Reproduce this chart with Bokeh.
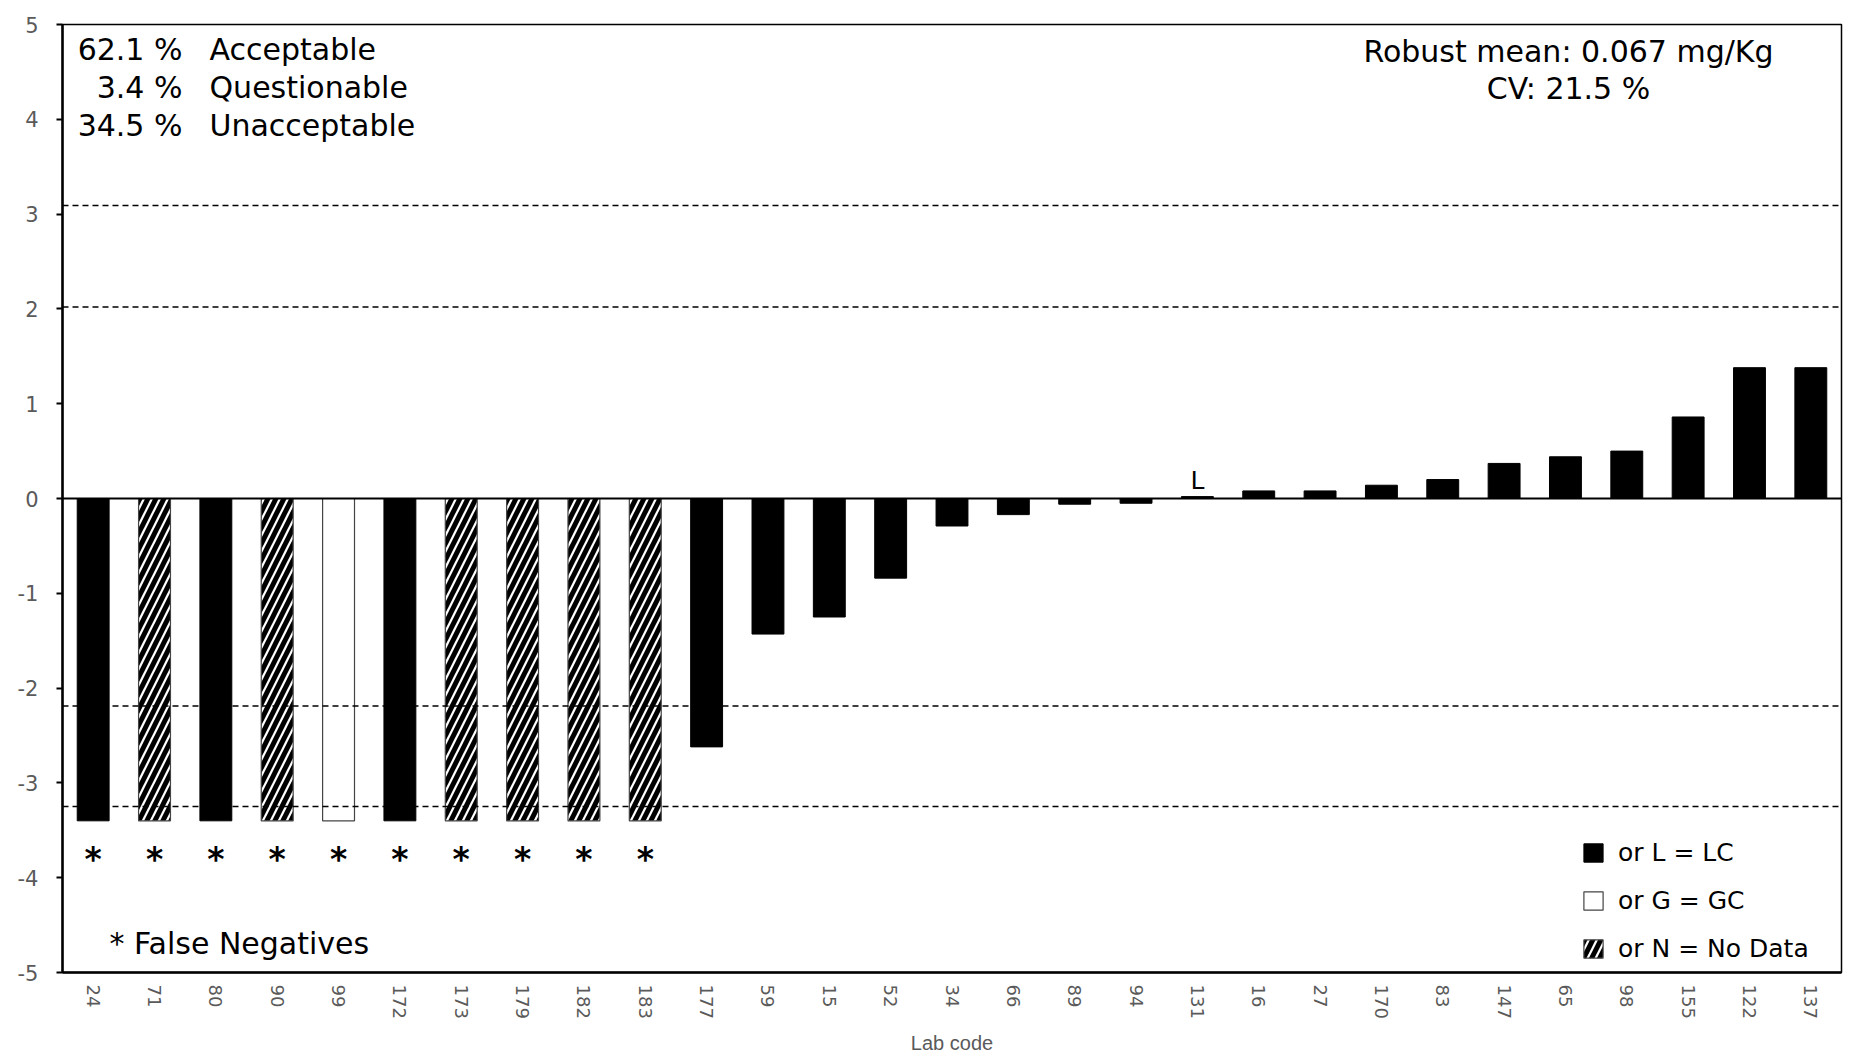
from bokeh.plotting import figure
from bokeh.models import (ColumnDataSource, FactorRange, Range1d, FixedTicker, Span,
                          Label, Legend, LegendItem)
from bokeh.embed import file_html
from bokeh.resources import INLINE
from bokeh.core.properties import value

# ---------------- data ----------------
lab_codes = ["24", "71", "80", "90", "99", "172", "173", "179", "182", "183",
             "177", "59", "15", "52", "34", "66", "89", "94", "131", "16",
             "27", "170", "83", "147", "65", "98", "155", "122", "137"]
z_scores = [-3.4, -3.4, -3.4, -3.4, -3.4, -3.4, -3.4, -3.4, -3.4, -3.4,
            -2.62, -1.43, -1.25, -0.84, -0.29, -0.17, -0.06, -0.05, 0.02, 0.08,
            0.08, 0.14, 0.20, 0.37, 0.44, 0.50, 0.86, 1.38, 1.38]
method = ["L", "N", "L", "N", "G", "L", "N", "N", "N", "N"] + ["L"] * 19
false_negative = [True] * 10 + [False] * 19
bar_notes = [""] * 18 + ["L"] + [""] * 10
limit_lines = [3.09, 2.02, -2.19, -3.25]
y_ticks = [-5, -4, -3, -2, -1, 0, 1, 2, 3, 4, 5]
summary_pct = ["62.1 %", "3.4 %", "34.5 %"]
summary_lbl = ["Acceptable", "Questionable", "Unacceptable"]
stats_text = ["Robust mean: 0.067 mg/Kg", "CV: 21.5 %"]
legend_labels = {"L": "or L = LC", "G": "or G = GC", "N": "or N = No Data"}
false_neg_note = "* False Negatives"
x_title = "Lab code"

# ---------------- layout helpers ----------------
W, H = 1854, 1060
FL, FT, FR, FB = 62, 24, 1841, 972
FW, FH = FR - FL, FB - FT
N = len(lab_codes)
YMIN, YMAX = -5, 5
BASE_FIX = 9  # svg alphabetic baseline correction (px)

def dx(px):
    return (px - FL) / FW * N

def dy(py):
    return YMAX - (py - FT) / FH * (YMAX - YMIN)

FONT = "DejaVu Sans"
GRAY = "#5a5a5a"

p = figure(width=W, height=H, x_range=FactorRange(*lab_codes),
           y_range=Range1d(YMIN, YMAX), output_backend="svg",
           toolbar_location=None, tools="")
p.min_border_left = FL
p.min_border_right = W - FR
p.min_border_top = FT
p.min_border_bottom = H - FB
p.xgrid.visible = False
p.ygrid.visible = False
p.outline_line_color = "black"
p.outline_line_width = 1.5
p.background_fill_color = "white"
p.border_fill_color = "white"

# bars per method
styles = {
    "L": dict(fill_color="black", line_color="black", line_width=1),
    "G": dict(fill_color="white", line_color="#444444", line_width=1.2),
    "N": dict(fill_color="white", line_color="#444444", line_width=1.2,
              hatch_pattern="/", hatch_color="black", hatch_scale=16, hatch_weight=5),
}
renderers = {}
for m in ["L", "G", "N"]:
    xs = [c for c, mm in zip(lab_codes, method) if mm == m]
    ts = [v for v, mm in zip(z_scores, method) if mm == m]
    src = ColumnDataSource(dict(x=xs, top=ts))
    renderers[m] = p.vbar(x="x", top="top", bottom=0, width=0.52, source=src, **styles[m])

# limit lines and zero line
for yl in limit_lines:
    p.add_layout(Span(location=yl, dimension="width", line_color="black",
                      line_width=1.5, line_dash="6 4"))
p.add_layout(Span(location=0, dimension="width", line_color="black", line_width=2))

# asterisks for false negatives
fn_src = ColumnDataSource(dict(x=[c for c, f in zip(lab_codes, false_negative) if f],
                               t=["*" for f in false_negative if f]))
p.text(x="x", y=dy(859), text="t", source=fn_src, text_align="center",
       text_baseline="middle", text_font=value(FONT), text_font_size="33px",
       text_font_style="bold", text_color="black")

# notes above bars
note_gap = 2 * (YMAX - YMIN) / FH
nt_x = [c for c, n in zip(lab_codes, bar_notes) if n]
nt_y = [max(v, 0) + note_gap for v, n in zip(z_scores, bar_notes) if n]
nt_t = [n for n in bar_notes if n]
p.text(x="x", y="y", text="t", source=ColumnDataSource(dict(x=nt_x, y=nt_y, t=nt_t)),
       text_align="center", text_baseline="bottom",
       text_font=value(FONT), text_font_size="25px", text_color="black")

# summary text top-left
for i, (a, b) in enumerate(zip(summary_pct, summary_lbl)):
    yb = dy(58 + i * 38 - BASE_FIX)
    p.add_layout(Label(x=dx(182), y=yb, text=a, text_align="right",
                       text_baseline="alphabetic", text_font=FONT,
                       text_font_size="30px", text_color="black"))
    p.add_layout(Label(x=dx(209), y=yb, text=b, text_align="left",
                       text_baseline="alphabetic", text_font=FONT,
                       text_font_size="30px", text_color="black"))

# stats text top-right
for i, s in enumerate(stats_text):
    p.add_layout(Label(x=dx(1568), y=dy(60 + i * 37 - BASE_FIX), text=s, text_align="center",
                       text_baseline="alphabetic", text_font=FONT,
                       text_font_size="30px", text_color="black"))

# false negatives note
p.add_layout(Label(x=dx(109), y=dy(952 - BASE_FIX), text=false_neg_note, text_align="left",
                   text_baseline="alphabetic", text_font=FONT,
                   text_font_size="30px", text_color="black"))

# legend
legend = Legend(items=[LegendItem(label=legend_labels[m], renderers=[renderers[m]])
                       for m in ["L", "G", "N"]],
                location=(1581 - FL, 9), orientation="vertical",
                glyph_width=24, glyph_height=23, label_height=23, spacing=19,
                label_standoff=13, padding=0, margin=0,
                label_text_font=FONT, label_text_font_size="25px",
                label_text_color="black", background_fill_alpha=0,
                border_line_alpha=0)
p.add_layout(legend)

# axes
ya = p.yaxis[0]
ya.ticker = FixedTicker(ticks=y_ticks)
ya.major_label_overrides = {t: str(t) for t in y_ticks}
ya.axis_line_width = 2.5
ya.axis_line_color = "black"
ya.major_tick_line_color = "black"
ya.major_tick_line_width = 2
ya.major_tick_out = 6
ya.major_tick_in = 0
ya.minor_tick_line_color = None
ya.major_label_standoff = 18
ya.major_label_text_font = FONT
ya.major_label_text_font_size = "21px"
ya.major_label_text_color = GRAY

xa = p.xaxis[0]
xa.axis_line_width = 2.5
xa.axis_line_color = "black"
xa.major_tick_line_color = None
xa.major_tick_out = 0
xa.major_tick_in = 0
xa.minor_tick_line_color = None
xa.major_label_orientation = "vertical"
xa.major_label_standoff = 12
xa.major_label_text_font = FONT
xa.major_label_text_font_size = "18px"
xa.major_label_text_color = GRAY
xa.axis_label = x_title
xa.axis_label_text_font = "Liberation Sans"
xa.axis_label_text_font_size = "20px"
xa.axis_label_text_font_style = "normal"
xa.axis_label_text_color = GRAY
xa.axis_label_standoff = 10

open("out.html", "w").write(file_html(p, INLINE))
